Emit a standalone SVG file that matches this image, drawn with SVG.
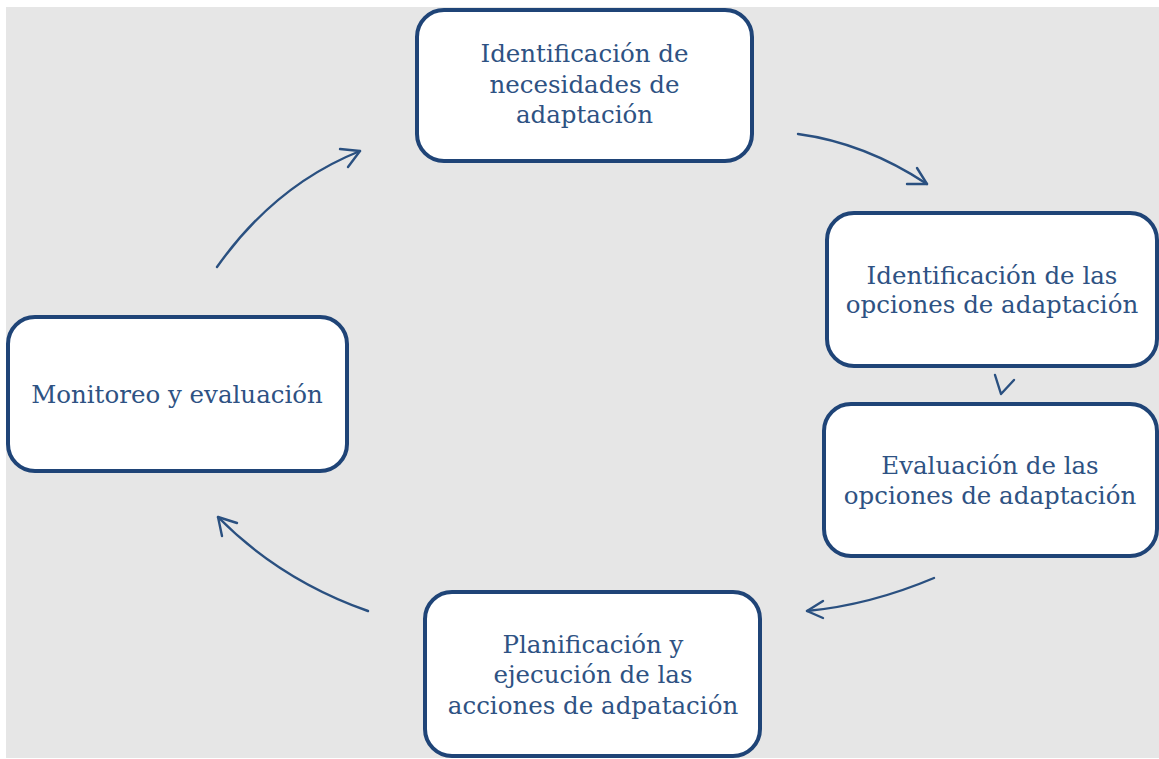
<svg xmlns="http://www.w3.org/2000/svg" width="1159" height="759" viewBox="0 0 1159 759">
<style>
.box{fill:#ffffff;stroke:#1f4477;stroke-width:4}
.t{font-family:"DejaVu Serif","Liberation Serif",serif;font-size:24.5px;fill:#2e5283;text-anchor:middle}
.c{fill:none;stroke:#2a5080;stroke-width:2.4;stroke-linecap:round;stroke-linejoin:round}
</style>
<rect x="0" y="0" width="1159" height="759" fill="#ffffff"/>
<rect x="6" y="7" width="1153" height="751" fill="#e6e6e6"/>
<g id="node-identificacion-necesidades">
<rect class="box" x="417" y="10" width="335" height="151" rx="27"/>
<text class="t" x="584.5" y="62">Identificación de</text>
<text class="t" x="584.5" y="93">necesidades de</text>
<text class="t" x="584.5" y="123">adaptación</text>
</g>
<g id="node-identificacion-opciones">
<rect class="box" x="827" y="213" width="330" height="153" rx="27"/>
<text class="t" x="992" y="284">Identificación de las</text>
<text class="t" x="992" y="313">opciones de adaptación</text>
</g>
<g id="node-evaluacion-opciones">
<rect class="box" x="824" y="404" width="333" height="152" rx="27"/>
<text class="t" x="990" y="474">Evaluación de las</text>
<text class="t" x="990" y="504">opciones de adaptación</text>
</g>
<g id="node-planificacion">
<rect class="box" x="425" y="592" width="335" height="164" rx="27"/>
<text class="t" x="593" y="653">Planificación y</text>
<text class="t" x="593" y="683">ejecución de las</text>
<text class="t" x="593" y="714">acciones de adpatación</text>
</g>
<g id="node-monitoreo">
<rect class="box" x="8" y="317" width="339" height="154" rx="27"/>
<text class="t" x="177" y="403">Monitoreo y evaluación</text>
</g>
<g id="connectors">
<path class="c" d="M798,134 Q865,143 927,184"/>
<path class="c" d="M917,168 L927,184 L907,184"/>
<path class="c" d="M995,375 L1001,394 L1014,380" stroke-width="3"/>
<path class="c" d="M934,578 Q870,605 807,611"/>
<path class="c" d="M823,601 L807,611 L823,618"/>
<path class="c" d="M368,611 Q280,580 218,517"/>
<path class="c" d="M237,523 L218,517 L222,536"/>
<path class="c" d="M217,267 Q275,185 360,151"/>
<path class="c" d="M340,149 L360,151 L348,167"/>
</g>
</svg>
